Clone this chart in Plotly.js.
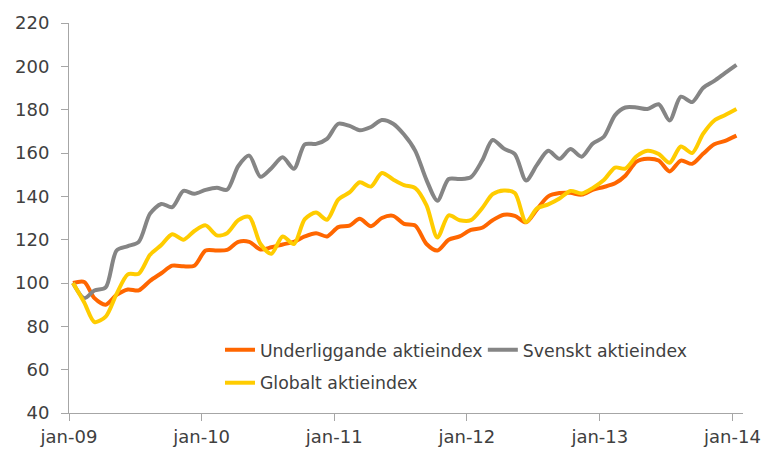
<!DOCTYPE html>
<html>
<head>
<meta charset="utf-8">
<script src="https://cdn.plot.ly/plotly-3.0.1.min.js"></script>
<style>html,body{margin:0;padding:0;background:#fff;}#chart{width:768px;height:450px;}</style>
</head>
<body>
<div id="chart"></div>
<script>
// Monthly observations, jan-09 .. jan-14
var startYear = 2009;
var nMonths = 61;

var underliggande = [100, 100.5, 93, 90, 94.5, 97, 96.6, 101, 104.5, 108, 107.7, 108,
  115, 115, 115.3, 119, 119, 115.5, 116.5, 117.8, 119, 121.5, 123, 121.5,
  125.8, 126.5, 129.6, 126.2, 130, 131, 127.3, 126.5, 118, 115, 120, 121.5,
  124.5, 125.5, 129, 131.5, 131, 128, 134, 140, 141.5, 141.6, 140.8, 143,
  144.3, 146, 149.5, 156, 157.3, 156.5, 151.5, 156.5, 155, 159.6, 164, 165.6, 168];

var svenskt = [100, 93, 96.5, 98, 115, 117, 119, 132, 136.5, 135, 142.5, 141.2,
  143, 144, 143, 154, 158.8, 149, 153, 158, 152.7, 164, 164.2, 166.5,
  173.5, 172.5, 170.5, 172, 175.2, 173.5, 168.5, 161, 147.5, 138, 148, 148,
  148.8, 156.5, 166, 162, 159.5, 147.3, 154.5, 161, 157.3, 161.8, 158.3, 164.3,
  167.5, 177.5, 181, 181, 180.3, 182.5, 175, 186, 183.5, 190, 193.3, 197, 200.7];

var globalt = [100, 91, 82, 84.5, 95, 104, 104.3, 113, 117.5, 122.5, 120, 124,
  126.6, 122, 123, 129, 130.5, 118, 113.5, 121.5, 118, 129.5, 132.5, 129.2,
  138.5, 141.8, 146.5, 144.5, 150.8, 147.8, 145.2, 143.8, 135.8, 121, 131.2, 129,
  129, 134.5, 141, 142.7, 141.5, 128.1, 134.4, 136.3, 139, 142.5, 141.3, 143.8,
  147.5, 153.3, 152.8, 158.5, 161, 159.5, 155.5, 163, 160, 168.8, 175, 177.5, 180.3];

var seriesNames = ['Underliggande aktieindex', 'Svenskt aktieindex', 'Globalt aktieindex'];
var tickVals = ['2009-01-01', '2010-01-01', '2011-01-01', '2012-01-01', '2013-01-01', '2014-01-01'];
var tickText = ['jan-09', 'jan-10', 'jan-11', 'jan-12', 'jan-13', 'jan-14'];
var yTicks = [40, 60, 80, 100, 120, 140, 160, 180, 200, 220];

function pad(n) { return (n < 10 ? '0' : '') + n; }
var dates = [];
for (var i = 0; i < nMonths; i++) {
  var y = startYear + Math.floor(i / 12);
  var m = (i % 12) + 1;
  dates.push(y + '-' + pad(m) + '-12');
}

var FONT = '"DejaVu Sans", sans-serif';
var textColor = '#404040';

var traces = [
  {x: dates, y: underliggande, name: seriesNames[0], type: 'scatter', mode: 'lines',
   line: {color: '#FF6600', width: 4, shape: 'spline', smoothing: 0.8}, legend: 'legend'},
  {x: dates, y: svenskt, name: seriesNames[1], type: 'scatter', mode: 'lines',
   line: {color: '#858585', width: 4, shape: 'spline', smoothing: 0.8}, legend: 'legend2'},
  {x: dates, y: globalt, name: seriesNames[2], type: 'scatter', mode: 'lines',
   line: {color: '#FFCC00', width: 4, shape: 'spline', smoothing: 0.8}, legend: 'legend3'}
];

function legendBox(x, y) {
  return {
    orientation: 'h', x: x, y: y, xanchor: 'left', yanchor: 'middle',
    bgcolor: 'rgba(0,0,0,0)', borderwidth: 0,
    font: {family: FONT, size: 17.3, color: textColor}, itemwidth: 30
  };
}

var layout = {
  width: 768, height: 450,
  margin: {l: 69, r: 25, t: 23, b: 37},
  paper_bgcolor: '#ffffff', plot_bgcolor: '#ffffff',
  font: {family: FONT, size: 17, color: textColor},
  showlegend: true,
  xaxis: {
    type: 'date', range: ['2009-01-01', '2014-01-30'],
    tickvals: tickVals, ticktext: tickText,
    showgrid: false, zeroline: false,
    showline: true, linecolor: '#A6A6A6', linewidth: 1,
    ticks: 'outside', ticklen: 7, tickcolor: '#A6A6A6',
    tickfont: {family: FONT, size: 18, color: '#404040'}
  },
  yaxis: {
    range: [40, 220], tickvals: yTicks,
    showgrid: false, zeroline: false,
    showline: true, linecolor: '#A6A6A6', linewidth: 1,
    ticks: 'outside', ticklen: 7, tickcolor: '#A6A6A6',
    ticklabelstandoff: 8,
    tickfont: {family: FONT, size: 18, color: '#404040'}
  },
  legend: legendBox(0.224, 0.1615),
  legend2: legendBox(0.614, 0.1615),
  legend3: legendBox(0.224, 0.077)
};

Plotly.newPlot('chart', traces, layout, {displayModeBar: false, staticPlot: true});
</script>
</body>
</html>
